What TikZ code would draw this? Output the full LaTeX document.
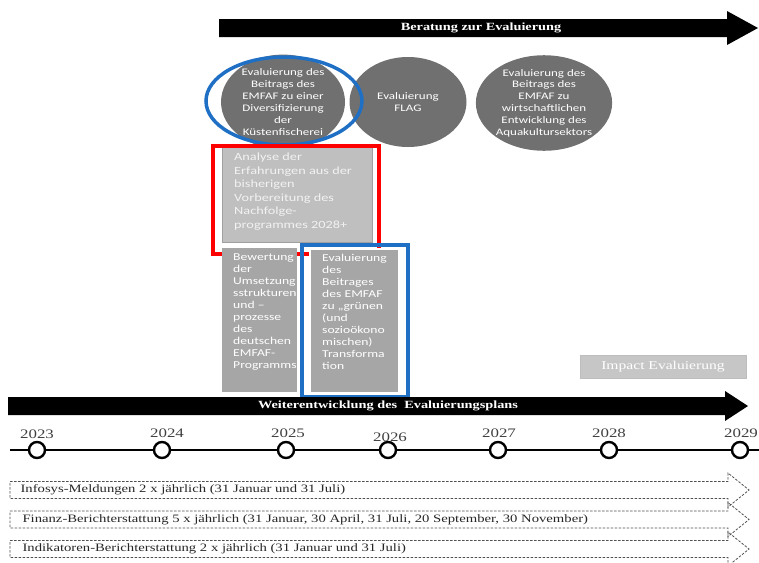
\documentclass[tikz,border=0pt]{standalone}
\usepackage{fontspec}
\setmainfont[FakeStretch=1.3]{Liberation Serif}
\newfontfamily\calfont[FakeStretch=1.3]{Carlito}
\usetikzlibrary{shapes.geometric}
\definecolor{ellgray}{HTML}{707070}
\definecolor{boxgray}{HTML}{A6A6A6}
\definecolor{lightbox}{HTML}{BFBFBF}
\definecolor{lightborder}{HTML}{A0A0A0}
\definecolor{impactgray}{HTML}{C6C6C6}
\definecolor{markblue}{HTML}{1F6FC5}
\definecolor{markred}{HTML}{FF0000}
\definecolor{yeargray}{HTML}{404040}
\definecolor{dashgray}{HTML}{505050}
\tikzset{
  ellnode/.style={ellipse, fill=ellgray, text=white, align=center, inner sep=0pt,
    font=\calfont\fontsize{10}{12}\selectfont},
  yearlbl/.style={text=yeargray, font=\fontsize{13}{13}\selectfont},
  tlcircle/.style={circle, draw=black, fill=white, line width=2.4pt, minimum width=16pt, minimum height=15pt, inner sep=0pt},
  dasharrow/.style={draw=dashgray, dashed, dash pattern=on 2.5pt off 1.5pt, line width=0.8pt},
  arrowtext/.style={anchor=west, text=black!85, font=\fontsize{11.3}{12}\selectfont},
  bartext/.style={text=white, font=\bfseries\fontsize{11}{12}\selectfont},
  boxtext/.style={anchor=north west, align=left, inner sep=0pt, text=white,
    font=\calfont\fontsize{10.5}{12}\selectfont}
}
\begin{document}
\begin{tikzpicture}[x=1pt,y=-1pt]
\useasboundingbox (0,0) rectangle (759,562);

% top arrow
\fill[black] (219,19) -- (727,19) -- (727,11) -- (758,28) -- (727,45) -- (727,37) -- (219,37) -- cycle;
\node[bartext] (beratung) at (481,28) {Beratung zur Evaluierung};

% ellipses
\node[ellnode, minimum width=124pt, minimum height=86pt] (e1) at (283,102)
  {Evaluierung des\\Beitrags des\\EMFAF zu einer\\Diversifizierung\\der\\Küstenfischerei};
\node[ellnode, minimum width=117pt, minimum height=90pt] (e2) at (408,102)
  {Evaluierung\\FLAG};
\node[ellnode, minimum width=132pt, minimum height=92pt, font=\calfont\fontsize{10}{11.8}\selectfont] (e3) at (544,103)
  {Evaluierung des\\Beitrags des\\EMFAF zu\\wirtschaftlichen\\Entwicklung des\\Aquakultursektors};
\node[draw=markblue, line width=3.5pt, ellipse, minimum width=156pt, minimum height=88pt, inner sep=0pt] (blueell) at (284,101) {};

% analyse box
\node[rectangle, fill=lightbox, draw=lightborder, line width=1pt, anchor=north west,
  minimum width=150pt, minimum height=96pt, inner sep=0pt] (analysebox) at (222,146) {};
\node[anchor=north west, align=left, inner sep=0pt, text=white!95!black,
  font=\calfont\fontsize{11}{13.5}\selectfont] (analyse) at (234,153)
  {Analyse der\\Erfahrungen aus der\\bisherigen\\Vorbereitung des\\Nachfolge-\\programmes 2028+};
\node[draw=markred, line width=4pt, rectangle, anchor=north west, minimum width=166pt,
  minimum height=108pt, inner sep=0pt] (redrect) at (211,144) {};

% lower boxes
\node[rectangle, fill=boxgray, anchor=north west, minimum width=75pt, minimum height=144pt, inner sep=0pt] (bewbox) at (222,248) {};
\node[boxtext] (bewertung) at (233,254)
  {Bewertung\\der\\Umsetzung\\sstrukturen\\und –\\prozesse\\des\\deutschen\\EMFAF-\\Programms};
\node[rectangle, fill=boxgray, draw=white, line width=1.5pt, anchor=north west, minimum width=89pt, minimum height=144pt, inner sep=0pt] (evalbox) at (309,248) {};
\node[boxtext] (evaluierung) at (322,254)
  {Evaluierung\\des\\Beitrages\\des EMFAF\\zu „grünen\\(und\\sozioökono\\mischen)\\Transforma\\tion};
\node[draw=markblue, line width=4pt, rectangle, anchor=north west, minimum width=106pt,
  minimum height=152pt, inner sep=0pt] (bluerect) at (300,243) {};

% impact
\node[rectangle, fill=impactgray, draw=lightborder!70!white, line width=0.8pt, minimum width=166pt, minimum height=23pt,
  text=white, font=\fontsize{12}{12}\selectfont] (impact) at (663,367) {Impact Evaluierung};

% bottom arrow
\fill[black] (8,397) -- (725,397) -- (725,391) -- (748,406) -- (725,421) -- (725,415) -- (8,415) -- cycle;
\node[bartext] (weiter) at (388,406) {Weiterentwicklung des\ \ Evaluierungsplans};

% timeline
\coordinate (tlstart) at (10,450);
\coordinate (tlend) at (759,450);
\node[tlcircle] (c23) at (37,450) {};
\node[tlcircle] (c24) at (162,450) {};
\node[tlcircle] (c25) at (286,450) {};
\node[tlcircle] (c26) at (388,450) {};
\node[tlcircle] (c27) at (498,450) {};
\node[tlcircle] (c28) at (609,450) {};
\node[tlcircle] (c29) at (740,450) {};
\draw[line width=2.2pt] (tlstart) -- (c23) (c23) -- (c24) (c24) -- (c25) (c25) -- (c26)
  (c26) -- (c27) (c27) -- (c28) (c28) -- (c29) (c29) -- (tlend);
\node[yearlbl] (y23) at (37,434) {2023};
\node[yearlbl] (y24) at (167,433) {2024};
\node[yearlbl] (y25) at (288,433) {2025};
\node[yearlbl] (y26) at (390,437) {2026};
\node[yearlbl] (y27) at (499,433) {2027};
\node[yearlbl] (y28) at (609,433) {2028};
\node[yearlbl] (y29) at (741,433) {2029};

% dashed arrows
\foreach \c in {490,519.5,549}{
  \draw[dasharrow] (10,\c-8.5) -- (728,\c-8.5) -- (728,\c-17) -- (749,\c) -- (728,\c+17) -- (728,\c+8.5) -- (10,\c+8.5) -- cycle;
}
\node[arrowtext] (infosys) at (17,490) {Infosys-Meldungen 2 x jährlich (31 Januar und 31 Juli)};
\node[arrowtext] (finanz) at (19,519.5) {Finanz-Berichterstattung 5 x jährlich (31 Januar, 30 April, 31 Juli, 20 September, 30 November)};
\node[arrowtext] (indik) at (19,549) {Indikatoren-Berichterstattung 2 x jährlich (31 Januar und 31 Juli)};
\end{tikzpicture}
\end{document}
